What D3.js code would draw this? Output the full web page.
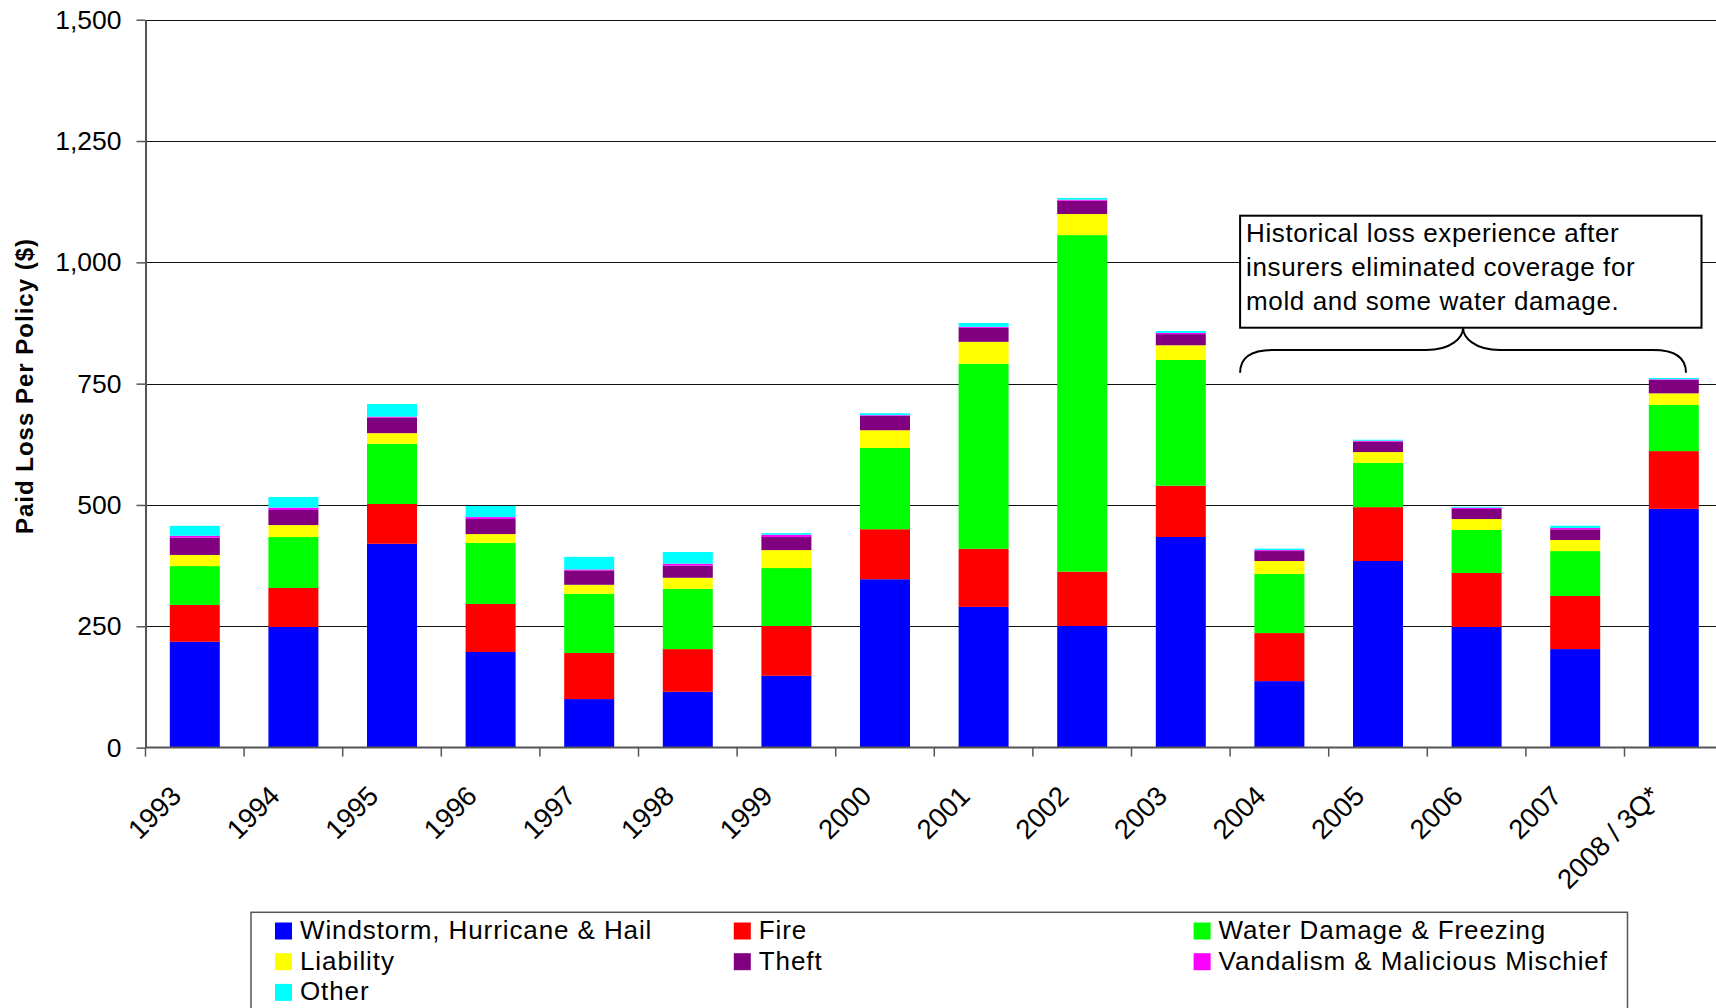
<!DOCTYPE html>
<html>
<head>
<meta charset="utf-8">
<script src="https://cdn.jsdelivr.net/npm/d3@7"></script>
<style>
  body { margin: 0; background: #fff; }
  svg { display: block; font-family: "Liberation Sans", Arial, sans-serif; }
</style>
</head>
<body>
<div id="chart"></div>
<script>
// ---- data ----
var years = ["1993", "1994", "1995", "1996", "1997", "1998", "1999", "2000",
             "2001", "2002", "2003", "2004", "2005", "2006", "2007", "2008 / 3Q*"];

var windstorm = [218, 248.5, 420, 197, 100, 115, 148, 347, 290, 250.6, 434, 137, 384.5, 248.5, 203, 492];
var fire      = [76, 80.4, 82, 99, 95, 88, 102.6, 103, 119.6, 112, 105.7, 99, 111, 111.3, 109.4, 119];
var water     = [80, 105, 124, 125.6, 122, 124, 119.4, 167.5, 381.3, 693.5, 259, 121.7, 91, 88.6, 92.6, 95];
var liability = [23, 24.7, 22, 18.4, 18.5, 23, 37, 36.5, 45.3, 43.5, 30.4, 26.8, 22.5, 22.6, 22.8, 24];
var theft     = [36, 31, 32, 31, 29.6, 25, 27, 29.5, 28.8, 27.5, 23, 20.5, 21.4, 20.7, 22, 27.5];
var vandalism = [3.5, 4.8, 2, 4, 2, 4, 4.7, 1.5, 2, 2, 2.4, 2, 2, 2.7, 2.7, 1.5];
var other     = [20.5, 22, 26, 23, 26, 24, 3.3, 4, 8, 3.6, 4, 3, 2, 2, 4.8, 2.7];

var seriesNames = ["Windstorm, Hurricane & Hail", "Fire", "Water Damage & Freezing",
                   "Liability", "Theft", "Vandalism & Malicious Mischief", "Other"];
var seriesColors = ["#0000ff", "#ff0000", "#00ff00", "#ffff00", "#800080", "#ff00ff", "#00ffff"];
var yTicks = [0, 250, 500, 750, 1000, 1250, 1500];

var noteLines = ["Historical loss experience after",
                 "insurers eliminated coverage for",
                 "mold and some water damage."];

(function () {

// ---- layout ----
var width = 1716, height = 1008;
var plotLeft = 145.5, plotTop = 19.7, plotBottom = 747.6;
var step = 98.6;

var svg = d3.select("#chart").append("svg")
  .attr("width", width)
  .attr("height", height);

svg.append("rect").attr("width", width).attr("height", height).attr("fill", "#fff");

var x = d3.scaleBand()
  .domain(years)
  .range([plotLeft, plotLeft + step * years.length])
  .padding(0);

var y = d3.scaleLinear()
  .domain([0, 1500])
  .range([plotBottom, plotTop]);

// build rows for the stack
var all = [windstorm, fire, water, liability, theft, vandalism, other];
var rows = years.map(function (yr, i) {
  var r = { year: yr };
  seriesNames.forEach(function (s, k) { r[s] = all[k][i]; });
  return r;
});
var stack = d3.stack().keys(seriesNames)(rows);

// gridlines
svg.append("g")
  .selectAll("line")
  .data(yTicks.filter(function (d) { return d > 0; }))
  .enter().append("line")
  .attr("x1", plotLeft).attr("x2", width)
  .attr("y1", function (d) { return Math.round(y(d)) + 0.5; })
  .attr("y2", function (d) { return Math.round(y(d)) + 0.5; })
  .attr("stroke", "#111")
  .attr("stroke-width", 1);

// bars
var barW = x.bandwidth() * 0.507;
svg.append("g")
  .selectAll("g")
  .data(stack)
  .enter().append("g")
  .attr("fill", function (d, i) { return seriesColors[i]; })
  .selectAll("rect")
  .data(function (d) { return d; })
  .enter().append("rect")
  .attr("x", function (d) { return x(d.data.year) + (x.bandwidth() - barW) / 2; })
  .attr("width", barW)
  .attr("y", function (d) { return y(d[1]); })
  .attr("height", function (d) { return y(d[0]) - y(d[1]); });

// y axis
var yAxis = svg.append("g")
  .attr("transform", "translate(" + plotLeft + ",0)")
  .call(d3.axisLeft(y).tickValues(yTicks).tickFormat(d3.format(",")).tickSize(9).tickSizeOuter(0).tickPadding(15));
yAxis.select(".domain").attr("stroke", "#555").attr("stroke-width", 2);
yAxis.selectAll(".tick line").attr("stroke", "#555").attr("stroke-width", 1.5);
yAxis.selectAll(".tick text")
  .attr("font-size", 26.5)
  .attr("font-family", "Liberation Sans, Arial, sans-serif")
  .attr("fill", "#000");

// x axis line and ticks at category edges
svg.append("line")
  .attr("x1", plotLeft).attr("x2", width)
  .attr("y1", plotBottom).attr("y2", plotBottom)
  .attr("stroke", "#555").attr("stroke-width", 2);

svg.append("g")
  .selectAll("line")
  .data(years)
  .enter().append("line")
  .attr("x1", function (d) { return x(d); })
  .attr("x2", function (d) { return x(d); })
  .attr("y1", plotBottom).attr("y2", plotBottom + 9)
  .attr("stroke", "#555").attr("stroke-width", 1.5);

svg.append("g")
  .selectAll("text")
  .data(years)
  .enter().append("text")
  .attr("transform", function (d) {
    return "translate(" + (x(d) + x.bandwidth() / 2 - 12) + "," + (plotBottom + 50) + ") rotate(-45)";
  })
  .attr("text-anchor", "end")
  .attr("font-size", 27.5)
  .text(function (d) { return d; });

// y title
svg.append("text")
  .attr("transform", "translate(33,386) rotate(-90)")
  .attr("text-anchor", "middle")
  .attr("font-size", 24)
  .attr("font-weight", "bold")
  .attr("letter-spacing", "1px")
  .text("Paid Loss Per Policy ($)");

// annotation box and brace
var boxX = x("2004") + 10, boxR = x("2008 / 3Q*") + 77;
var boxTop = 215.7, boxBot = 327.7;
svg.append("rect")
  .attr("x", boxX).attr("y", boxTop)
  .attr("width", boxR - boxX).attr("height", boxBot - boxTop)
  .attr("fill", "#fff").attr("stroke", "#000").attr("stroke-width", 2);

svg.append("g")
  .selectAll("text")
  .data(noteLines)
  .enter().append("text")
  .attr("x", boxX + 6)
  .attr("y", function (d, i) { return 241.7 + i * 34; })
  .attr("font-size", 26)
  .attr("letter-spacing", "0.6px")
  .text(function (d) { return d; });

var bl = boxX, br = x("2008 / 3Q*") + 61.5, bm = (bl + br) / 2;
var yMid = 350, yEnd = 372.7;
svg.append("path")
  .attr("d", "M" + bl + "," + yEnd +
    " C" + bl + "," + (yMid + 6) + " " + (bl + 14) + "," + yMid + " " + (bl + 33) + "," + yMid +
    " L" + (bm - 37) + "," + yMid +
    " C" + (bm - 12) + "," + yMid + " " + bm + "," + (boxBot + 10) + " " + bm + "," + boxBot +
    " C" + bm + "," + (boxBot + 10) + " " + (bm + 12) + "," + yMid + " " + (bm + 37) + "," + yMid +
    " L" + (br - 33) + "," + yMid +
    " C" + (br - 14) + "," + yMid + " " + br + "," + (yMid + 6) + " " + br + "," + yEnd)
  .attr("fill", "none").attr("stroke", "#000").attr("stroke-width", 2);

// legend
var legX = 251, legY = 912.3, legW = 1376.5;
svg.append("rect")
  .attr("x", legX).attr("y", legY)
  .attr("width", legW).attr("height", 120)
  .attr("fill", "#fff").attr("stroke", "#555").attr("stroke-width", 1.5);

var colX = [275, 733.8, 1193.6];
var legend = svg.append("g")
  .selectAll("g")
  .data(seriesNames)
  .enter().append("g")
  .attr("transform", function (d, i) {
    return "translate(" + colX[i % 3] + "," + (922.5 + Math.floor(i / 3) * 30.7) + ")";
  });
legend.append("rect")
  .attr("width", 17).attr("height", 17)
  .attr("fill", function (d, i) { return seriesColors[i]; });
legend.append("text")
  .attr("x", 25).attr("y", 16.5)
  .attr("font-size", 26)
  .attr("letter-spacing", "0.9px")
  .text(function (d) { return d; });

})();
</script>
</body>
</html>
